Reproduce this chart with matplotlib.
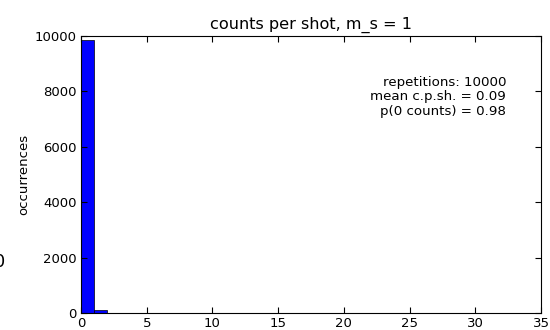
import matplotlib
matplotlib.use('Agg')
import matplotlib.pyplot as plt
import numpy as np

# histogram of photon counts per shot, one bin per integer count
bin_edges = np.arange(0, 36)
occurrences = [9840, 110, 6, 2, 1, 0, 0, 0, 0, 0,
               0, 0, 0, 3, 0, 0, 0, 2, 3, 0,
               0, 0, 0, 2, 0, 0, 0, 0, 2, 0,
               0, 0, 0, 0, 0]
repetitions = 10000
mean_cpsh = 0.09
p_zero = 0.98

fig = plt.figure(figsize=(5.5, 3.3), dpi=100)
ax = fig.add_axes([81 / 550, 1 - 313 / 330, 460 / 550, 277 / 330])

ax.bar(bin_edges[:-1], occurrences, width=1, align='edge',
       color='#0000ff', edgecolor='black', linewidth=0.5)

ax.set_xlim(0, 35)
ax.set_ylim(0, 10000)
ax.set_xticks(np.arange(0, 36, 5))
ax.set_yticks(np.arange(0, 10001, 2000))
ax.tick_params(direction='in', top=True, right=True, length=4,
               labelsize=9.5, pad=3)
for s in ax.spines.values():
    s.set_linewidth(0.8)

ax.set_title('counts per shot, m_s = 1', fontsize=11.6, pad=5)
ax.set_ylabel('occurrences', fontsize=9.5, labelpad=3)

ax.text(0.924, 0.855,
        'repetitions: %d\nmean c.p.sh. = %.2f\np(0 counts) = %.2f'
        % (repetitions, mean_cpsh, p_zero),
        transform=ax.transAxes, ha='right', va='top', fontsize=9.6,
        linespacing=1.12)

# leftover label from the neighbouring panel, clipped by the figure edge
fig.text(-0.012, 1 - 267 / 330, '0', fontsize=13, ha='left', va='baseline')

fig.savefig('out.png', dpi=100)
